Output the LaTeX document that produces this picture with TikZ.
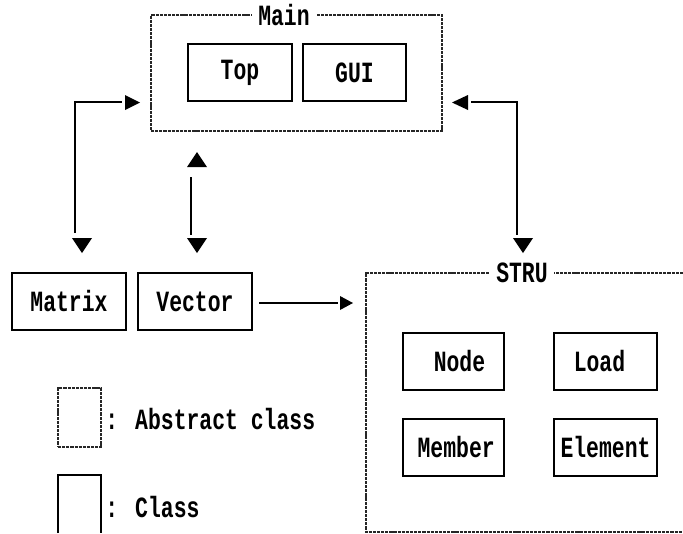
\documentclass[tikz,border=0pt]{standalone}
\usepackage{fontspec}
\newfontfamily\lab{Liberation Mono}[FakeStretch=0.73]
\usetikzlibrary{calc}
\begin{document}
\begin{tikzpicture}[x=0.75pt,y=-0.75pt,
  txt/.style={font=\lab\bfseries\fontsize{22}{26}\selectfont, inner sep=0pt},
  cls/.style={txt, draw, line width=1.5pt, minimum height=42.75pt},
  abs/.style={draw=black!85, line width=0.9pt, dash pattern=on 2.4pt off 0.7pt},
  con/.style={line width=2pt},
  tri/.style={fill=black}]
\useasboundingbox (0,0) rectangle (683,533);

% Main (abstract class)
\node[abs, minimum width=218.25pt, minimum height=87pt, inner sep=0pt] (main) at (296.5,73) {};
\node[txt, fill=white, inner xsep=5pt] (mainlbl) at (284,15) {Main};
\node[cls, minimum width=78pt] (top) at (240,72.5) {Top};
\node[cls, minimum width=77.25pt] (gui) at (354.5,72.5) {GUI};

% Matrix, Vector
\node[cls, minimum width=85.5pt] (matrix) at (69,301.5) {Matrix};
\node[cls, minimum width=85.5pt] (vector) at (195,301.5) {Vector};

% STRU (abstract class, open to the right)
\coordinate (struNW) at (366,273);
\coordinate (struSW) at (366,532);
\draw[abs] (683,273) -- (struNW) -- (struSW) -- (683,532);
\node[txt, fill=white, inner xsep=5pt] (strulbl) at (522,273) {STRU};
\node[cls, minimum width=75.75pt] (node) at (453.5,361.5) {\hspace*{9pt}Node};
\node[cls, minimum width=77.25pt] (load) at (605.5,361.5) {Load\hspace*{9pt}};
\node[cls, minimum width=75.75pt] (member) at (453.5,447.5) {\hspace*{4pt}Member};
\node[cls, minimum width=77.25pt] (element) at (605.5,447.5) {Element};

% Matrix <-> Main
\coordinate (m1) at (75,233);
\coordinate (m2) at (75,102);
\coordinate (m3) at (122,102);
\draw[con] (m1) -- (m2) -- (m3);
\fill[tri] (125,95) -- (140,102.5) -- (125,110) -- cycle;
\fill[tri] (72,238) -- (92,238) -- (82,253) -- cycle;

% Vector <-> Main
\coordinate (v1) at (191,177);
\coordinate (v2) at (191,235);
\draw[con] (v1) -- (v2);
\fill[tri] (187,167) -- (207,167) -- (197,152) -- cycle;
\fill[tri] (187,238) -- (207,238) -- (197,253) -- cycle;

% STRU <-> Main
\coordinate (s1) at (471,102);
\coordinate (s2) at (517,102);
\coordinate (s3) at (517,235);
\draw[con] (s1) -- (s2) -- (s3);
\fill[tri] (468,95) -- (452,102.5) -- (468,110) -- cycle;
\fill[tri] (513,238) -- (533,238) -- (523,253) -- cycle;

% Vector -> STRU
\coordinate (va) at (vector.east);
\coordinate (vb) at (338,303);
\draw[con] ($(va)+(6,1.5)$) -- (vb);
\fill[tri] (340,296) -- (353,303) -- (340,310) -- cycle;

% Legend
\node[abs, minimum width=32.25pt, minimum height=44.25pt, inner sep=0pt] (legabs) at (79.5,417.5) {};
\node[txt, anchor=west] (legabstxt) at (105,419) {: Abstract class};
\coordinate (lc1) at (58,533);
\coordinate (lc2) at (58,475);
\coordinate (lc3) at (101,475);
\coordinate (lc4) at (101,533);
\draw[line width=1.5pt] (lc1) -- (lc2) -- (lc3) -- (lc4);
\node[txt, anchor=west] (legclstxt) at (105,507) {: Class};
\end{tikzpicture}
\end{document}
